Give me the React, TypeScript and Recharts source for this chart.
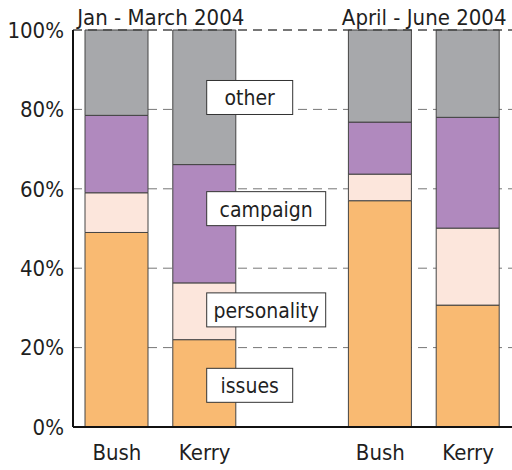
import React from 'react';
import {
  BarChart,
  Bar,
  XAxis,
  YAxis,
  CartesianGrid,
  ReferenceArea,
  ReferenceDot,
  ReferenceLine,
} from 'recharts';

// categories: two periods, an empty slot between them
const categories = ['Bush1', 'Kerry1', 'gap', 'Bush2', 'Kerry2'];
const tickLabels = ['Bush', 'Kerry', '', 'Bush', 'Kerry'];

// share of coverage (%)
const issues = [49, 22, null, 57, 30.7];
const personality = [10, 14.3, null, 6.7, 19.4];
const campaign = [19.5, 29.8, null, 13.1, 27.9];
const other = [21.5, 33.9, null, 23.2, 22];

const yTicks = [0, 20, 40, 60, 80, 100];

const periods = ['Jan - March 2004', 'April - June 2004'];
const periodStart = ['Bush1', 'Bush2'];
const periodEnd = ['Kerry1', 'Kerry2'];

// segment labels and the value level where each box sits
const segmentLabels = ['other', 'campaign', 'personality', 'issues'];
const segmentLabelY = [83, 55, 29.5, 10.5];

const FONT = '"DejaVu Sans", sans-serif';
const TEXT = '#1f1f1f';
const narrow = { fontStretch: 'condensed' as const };

const data = categories.map((c, i) => ({
  key: c,
  issues: issues[i],
  personality: personality[i],
  campaign: campaign[i],
  other: other[i],
}));

const LabelBox = (props: any) => {
  const { cx, cy, text } = props;
  if (cx == null || cy == null) return null;
  const w = text.length > 6 ? 119 : 86;
  const h = 34;
  const x = cx + 2;
  return (
    <g>
      <rect x={x} y={cy - h / 2} width={w} height={h} fill="#fff" stroke="#333" strokeWidth={1} />
      <text
        x={x + w / 2}
        y={cy + 8}
        textAnchor="middle"
        fontSize={21}
        fontFamily={FONT}
        style={narrow}
        fill={TEXT}
      >
        {text}
      </text>
    </g>
  );
};

export default function App() {
  return (
    <div style={{ position: 'absolute', left: 0, top: 0, background: '#fff' }}>
      <BarChart
        width={512}
        height={470}
        data={data}
        margin={{ top: 30, right: 0, bottom: 0, left: 0 }}
        barSize={63}
      >
        <CartesianGrid vertical={false} stroke="#777" strokeDasharray="9 6" />
        <ReferenceLine y={100} stroke="#333" strokeDasharray="9 6" />
        <XAxis
          dataKey="key"
          height={43}
          tickLine={false}
          tickSize={6}
          tickMargin={11}
          axisLine={{ stroke: '#111', strokeWidth: 2 }}
          tickFormatter={(v: string) => tickLabels[categories.indexOf(v)]}
          tick={{ fontSize: 22, fontFamily: FONT, fill: TEXT, style: narrow }}
          interval={0}
        />
        <YAxis
          width={73}
          domain={[0, 100]}
          ticks={yTicks}
          tickLine={false}
          tickSize={6}
          tickMargin={3}
          axisLine={{ stroke: '#111', strokeWidth: 2 }}
          tickFormatter={(v: number) => `${v}%`}
          tick={{ fontSize: 22, fontFamily: FONT, fill: TEXT, style: narrow }}
        />
        <Bar dataKey="issues" stackId="a" fill="#F9BA72" stroke="#444" strokeWidth={1} isAnimationActive={false} />
        <Bar dataKey="personality" stackId="a" fill="#FCE6DC" stroke="#444" strokeWidth={1} isAnimationActive={false} />
        <Bar dataKey="campaign" stackId="a" fill="#B089BE" stroke="#444" strokeWidth={1} isAnimationActive={false} />
        <Bar dataKey="other" stackId="a" fill="#A7A8AB" stroke="#444" strokeWidth={1} isAnimationActive={false} />
        {periods.map((p, i) => (
          <ReferenceArea
            key={p}
            x1={periodStart[i]}
            x2={periodEnd[i]}
            y1={99.9}
            y2={100}
            fill="none"
            stroke="none"
            ifOverflow="visible"
            label={{ value: p, position: 'top', offset: 5, fontSize: 22, fontFamily: FONT, fill: TEXT, style: narrow }}
          />
        ))}
        {segmentLabels.map((s, i) => (
          <ReferenceDot
            key={s}
            x="Kerry1"
            y={segmentLabelY[i]}
            r={0}
            ifOverflow="visible"
            shape={(props: any) => <LabelBox {...props} text={s} />}
          />
        ))}
      </BarChart>
    </div>
  );
}
